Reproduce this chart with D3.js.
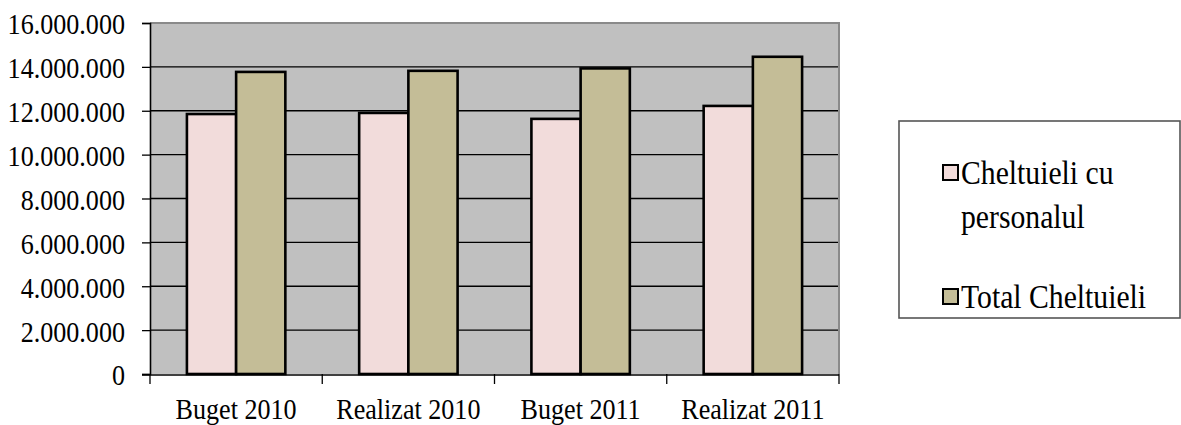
<!DOCTYPE html>
<html>
<head>
<meta charset="utf-8">
<script src="https://cdn.jsdelivr.net/npm/d3@7"></script>
<style>
  html, body { margin: 0; padding: 0; background: #ffffff; }
  svg { display: block; }
</style>
</head>
<body>
<svg id="chart" width="1181" height="425"></svg>
<script>
// ---- data ----
const categories = ["Buget 2010", "Realizat 2010", "Buget 2011", "Realizat 2011"];
const seriesNames = ["Cheltuieli cu personalul", "Total Cheltuieli"];
const cheltuieliPersonal = [11850000, 11900000, 11630000, 12220000];
const totalCheltuieli = [13770000, 13820000, 13930000, 14460000];
const yTicks = [0, 2000000, 4000000, 6000000, 8000000, 10000000, 12000000, 14000000, 16000000];
const legendLines = [["Cheltuieli cu", "personalul"], ["Total Cheltuieli"]];
const colors = ["#F2DCDB", "#C4BD97"];

const seriesValues = [cheltuieliPersonal, totalCheltuieli];
const SERIF = "'Liberation Serif', 'Times New Roman', 'DejaVu Serif', serif";

const svg = d3.select("#chart");
const plot = { left: 150, right: 839, top: 23, bottom: 374 };

const locale = d3.formatLocale({ decimal: ",", thousands: ".", grouping: [3], currency: ["", ""] });
const fmt = locale.format(",d");

const x0 = d3.scaleBand().domain(categories).range([plot.left, plot.right]).padding(0);
const bw = x0.bandwidth();
const gap = bw * 1.5 / 3.5;
const x1 = d3.scaleBand().domain(d3.range(seriesNames.length)).range([gap / 2, bw - gap / 2]).padding(0);
const y = d3.scaleLinear().domain([0, 16000000]).range([plot.bottom, plot.top]);

// plot background
svg.append("rect")
  .attr("x", plot.left).attr("y", plot.top)
  .attr("width", plot.right - plot.left).attr("height", plot.bottom - plot.top)
  .attr("fill", "#C0C0C0");

// gridlines
svg.append("g").selectAll("line")
  .data(yTicks.filter(v => v > 0 && v < 16000000))
  .join("line")
  .attr("x1", plot.left).attr("x2", plot.right)
  .attr("y1", d => y(d)).attr("y2", d => y(d))
  .attr("stroke", "#000").attr("stroke-width", 1.3);

// top/right border
svg.append("path")
  .attr("d", `M${plot.left},${plot.top}H${plot.right}V${plot.bottom}`)
  .attr("fill", "none").attr("stroke", "#8a8a8a").attr("stroke-width", 2);

// bars
const groups = svg.append("g").selectAll("g")
  .data(categories)
  .join("g")
  .attr("transform", d => `translate(${x0(d)},0)`);

groups.selectAll("rect")
  .data((d, i) => seriesValues.map((vals, s) => ({ s, v: vals[i] })))
  .join("rect")
  .attr("x", d => x1(d.s))
  .attr("width", x1.bandwidth())
  .attr("y", d => y(d.v))
  .attr("height", d => y(0) - y(d.v))
  .attr("fill", d => colors[d.s])
  .attr("stroke", "#000")
  .attr("stroke-width", 2.6);

// y axis
const yAxis = svg.append("g")
  .attr("transform", `translate(${plot.left},0)`)
  .call(d3.axisLeft(y).tickValues(yTicks).tickFormat(fmt).tickSize(8).tickPadding(0));
yAxis.attr("font-family", null).attr("font-size", null);
yAxis.select(".domain").attr("stroke", "#000").attr("stroke-width", 1.6);
yAxis.selectAll(".tick line").attr("stroke", "#000").attr("stroke-width", 1.3);
yAxis.selectAll(".tick text")
  .attr("x", null)
  .attr("dy", null)
  .style("font-family", SERIF)
  .style("font-size", "29px")
  .attr("fill", "#000")
  .attr("text-anchor", "end")
  .attr("dominant-baseline", "central")
  .attr("transform", "translate(-25,1) scale(0.9,1)");

// x axis
const xAxis = svg.append("g")
  .attr("transform", `translate(0,${plot.bottom + 1})`)
  .call(d3.axisBottom(x0).tickSize(0).tickPadding(0));
xAxis.attr("font-family", null).attr("font-size", null);
xAxis.select(".domain").attr("d", `M${plot.left - 8},0H${plot.right}`).attr("stroke", "#000").attr("stroke-width", 1.6);
xAxis.selectAll(".tick text")
  .attr("y", null).attr("dy", null)
  .style("font-family", SERIF)
  .style("font-size", "29px")
  .attr("fill", "#000")
  .attr("text-anchor", "middle")
  .attr("transform", "translate(0,44) scale(0.9,1)");

// category boundary ticks
const bounds = categories.map(c => x0(c)).concat([plot.right]);
svg.append("g").selectAll("line")
  .data(bounds)
  .join("line")
  .attr("x1", d => d).attr("x2", d => d)
  .attr("y1", plot.bottom).attr("y2", plot.bottom + 10)
  .attr("stroke", "#000").attr("stroke-width", 1.3);

// legend
const legend = svg.append("g");
legend.append("rect")
  .attr("x", 899).attr("y", 121).attr("width", 281).attr("height", 197)
  .attr("fill", "#fff").attr("stroke", "#555").attr("stroke-width", 1.6);

const legendY = [173, 297];
seriesNames.forEach((name, i) => {
  legend.append("rect")
    .attr("x", 943).attr("y", legendY[i] - 8).attr("width", 15).attr("height", 15)
    .attr("fill", colors[i]).attr("stroke", "#000").attr("stroke-width", 2);
  const t = legend.append("text")
    .style("font-family", SERIF)
    .style("font-size", "33px")
    .attr("fill", "#000")
    .attr("transform", `translate(961,${legendY[i] + 11}) scale(0.9,1)`);
  legendLines[i].forEach((ln, k) => {
    t.append("tspan").attr("x", 0).attr("dy", k === 0 ? 0 : 44).text(ln);
  });
});
</script>
</body>
</html>
